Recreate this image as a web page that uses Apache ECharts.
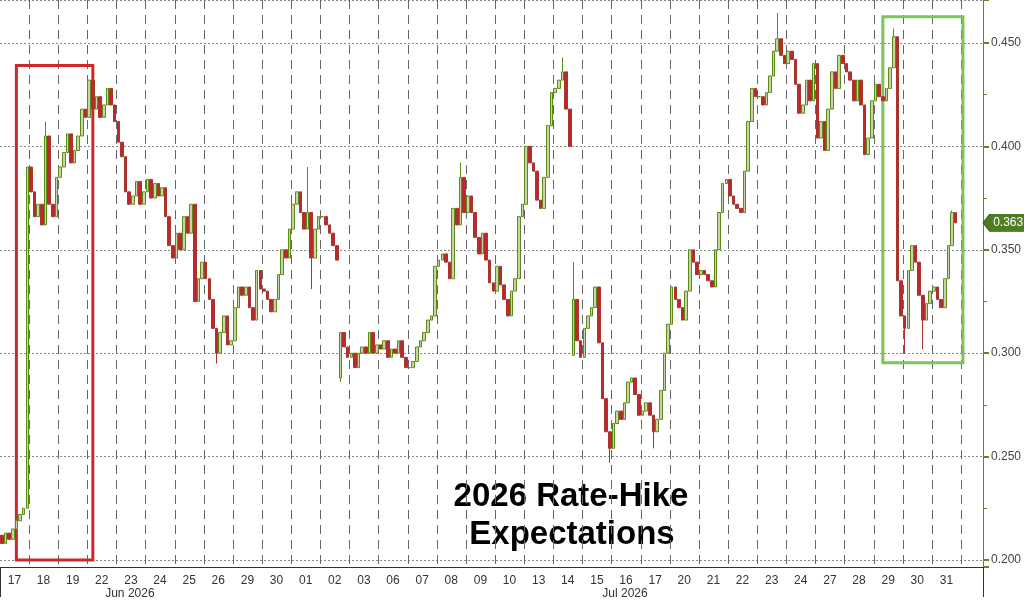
<!DOCTYPE html>
<html>
<head>
<meta charset="utf-8">
<title>2026 Rate-Hike Expectations</title>
<script src="https://cdn.jsdelivr.net/npm/echarts@6/dist/echarts.min.js"></script>
<style>
  html, body { margin: 0; padding: 0; background: #fff; }
  #chart { width: 1024px; height: 600px; }
</style>
</head>
<body>
<div id="chart"></div>
<script>
// trading days shown on the x axis
var dayLabels = ['17', '18', '19', '22', '23', '24', '25', '26', '29', '30',
  '01', '02', '03', '06', '07', '08', '09', '10', '13', '14', '15', '16', '17',
  '20', '21', '22', '23', '24', '27', '28', '29', '30', '31'];
var monthLabels = { 4: 'Jun 2026', 21: 'Jul 2026' };
var slotsPerDay = 8;
var totalSlots = 270;

// intraday closes, 8 bars per day
var firstOpen = 0.212;
var closes = [
  [0.208, 0.213, 0.210, 0.215, 0.219, 0.222, 0.225, 0.390], // Jun 17
  [0.378, 0.366, 0.372, 0.362, 0.405, 0.372, 0.366, 0.385],
  [0.390, 0.397, 0.406, 0.392, 0.398, 0.405, 0.418, 0.414],
  [0.432, 0.418, 0.424, 0.414, 0.420, 0.428, 0.420, 0.412],
  [0.402, 0.395, 0.378, 0.372, 0.376, 0.383, 0.372, 0.378],
  [0.384, 0.375, 0.382, 0.376, 0.380, 0.366, 0.352, 0.346],
  [0.358, 0.350, 0.366, 0.358, 0.372, 0.325, 0.336, 0.344],
  [0.336, 0.326, 0.312, 0.300, 0.310, 0.318, 0.304, 0.306],
  [0.322, 0.332, 0.328, 0.332, 0.322, 0.316, 0.340, 0.331],
  [0.330, 0.326, 0.320, 0.326, 0.338, 0.350, 0.346, 0.360], // Jun 30
  [0.372, 0.378, 0.368, 0.360, 0.368, 0.346, 0.360, 0.366], // Jul 01
  [0.366, 0.362, 0.358, 0.352, 0.345, 0.310, 0.303, 0.298],
  [0.300, 0.293, 0.300, 0.303, 0.300, 0.310, 0.300, 0.304],
  [0.302, 0.306, 0.298, 0.302, 0.300, 0.306, 0.298, 0.293],
  [0.293, 0.296, 0.303, 0.306, 0.310, 0.316, 0.318, 0.342],
  [0.345, 0.348, 0.344, 0.336, 0.370, 0.362, 0.385, 0.368],
  [0.376, 0.368, 0.356, 0.348, 0.358, 0.345, 0.334, 0.330],
  [0.342, 0.333, 0.326, 0.318, 0.330, 0.336, 0.366, 0.372],
  [0.400, 0.392, 0.388, 0.374, 0.370, 0.385, 0.410, 0.426],
  [0.428, 0.432, 0.436, 0.418, 0.400, 0.326, 0.306, 0.298],
  [0.312, 0.318, 0.322, 0.332, 0.305, 0.278, 0.262, 0.254],
  [0.266, 0.272, 0.268, 0.276, 0.286, 0.288, 0.280, 0.270],
  [0.272, 0.276, 0.270, 0.262, 0.268, 0.282, 0.300, 0.314],
  [0.332, 0.326, 0.322, 0.316, 0.330, 0.350, 0.344, 0.338],
  [0.340, 0.338, 0.335, 0.332, 0.350, 0.368, 0.382, 0.384],
  [0.376, 0.372, 0.370, 0.368, 0.388, 0.412, 0.428, 0.424],
  [0.424, 0.420, 0.426, 0.434, 0.446, 0.452, 0.444, 0.440],
  [0.446, 0.442, 0.430, 0.416, 0.420, 0.432, 0.422, 0.440],
  [0.404, 0.412, 0.398, 0.418, 0.436, 0.428, 0.444, 0.440],
  [0.436, 0.432, 0.422, 0.432, 0.420, 0.396, 0.404, 0.422],
  [0.430, 0.424, 0.422, 0.428, 0.438, 0.453, 0.335, 0.318],
  [0.312, 0.340, 0.352, 0.344, 0.328, 0.316, 0.324, 0.330],
  [0.332, 0.326, 0.322, 0.336, 0.352, 0.368, 0.363]        // Jul 31
];
// bars that open after a break in the data (slot -> open)
var gapOpens = { 93: 0.288, 157: 0.299 };
// visible wick extremes (slot -> [low, high])
var wicks = {
  12: [0, 0.412], 59: [0.295, 1], 84: [0, 0.390], 85: [0.331, 1],
  93: [0.286, 1], 126: [0, 0.392], 154: [0, 0.443], 157: [0, 0.344],
  167: [0.247, 1], 179: [0.254, 1], 213: [0, 0.4645], 245: [0, 0.457],
  248: [0.300, 1], 253: [0.302, 1], 261: [0, 0.369]
};
// boxes drawn over the chart: [slotFrom, valueTop, slotTo, valueBottom]
var redBox = [4, 0.4391, 25, 0.200];
var greenBox = [242, 0.4627, 264, 0.2954];

var slots = [];
for (var s = 0; s < totalSlots; s++) slots.push('s' + s);

var candles = [];
var prev = firstOpen;
closes.forEach(function (day) {
  day.forEach(function (c) {
    var i = candles.length;
    var o = gapOpens[i] !== undefined ? gapOpens[i] : prev;
    var lo = Math.min(o, c), hi = Math.max(o, c);
    if (wicks[i]) { lo = Math.min(lo, wicks[i][0] || lo); hi = Math.max(hi, wicks[i][1] < 1 ? wicks[i][1] : hi); }
    candles.push([o, c, lo, hi]);
    prev = c;
  });
});
var lastClose = prev;
var lastSlot = totalSlots - 1;
while (candles.length < totalSlots) candles.push('-');

var chart = echarts.init(document.getElementById('chart'));
chart.setOption({
  animation: false,
  backgroundColor: '#fff',
  grid: { left: 0, right: 41, top: 0, bottom: 32 },
  xAxis: {
    type: 'category',
    data: slots,
    boundaryGap: true,
    axisLine: { show: true, lineStyle: { color: '#333', width: 1 } },
    axisTick: {
      show: true,
      interval: function (i) { return i === 80; },
      length: 30,
      lineStyle: { color: '#333', width: 1 }
    },
    splitLine: {
      show: true,
      interval: function (i) { return i > 0 && i % slotsPerDay === 0; },
      lineStyle: { color: '#666', width: 1, type: [9, 6] }
    },
    axisLabel: {
      interval: function (i) { return i % slotsPerDay === 4 && i / slotsPerDay < dayLabels.length; },
      margin: 7,
      formatter: function (v, i) {
        var d = Math.floor(i / slotsPerDay);
        var t = '{d|' + dayLabels[d] + '}';
        if (monthLabels[d]) t += '\n{m|' + monthLabels[d] + '}';
        return t;
      },
      rich: {
        d: { fontFamily: 'Liberation Sans', fontSize: 12, color: '#333', lineHeight: 13, padding: [0, 4, 0, 0] },
        m: { fontFamily: 'Liberation Sans', fontSize: 12, color: '#333', lineHeight: 14, padding: [0, 6, 0, 0] }
      }
    }
  },
  yAxis: {
    type: 'value',
    position: 'right',
    min: 0.19662,
    max: 0.47075,
    splitNumber: 5,
    scale: true,
    axisLine: { show: true, lineStyle: { color: '#6d7f2a', width: 1 } },
    axisTick: { show: true, length: 6, lineStyle: { color: '#6d7f2a', width: 2 } },
    minorTick: { show: true, splitNumber: 2, length: 4, lineStyle: { color: '#6d7f2a', width: 1 } },
    splitLine: { show: true, lineStyle: { color: '#888', width: 1, type: [2, 2] } },
    axisLabel: {
      showMinLabel: false,
      showMaxLabel: false,
      margin: 8,
      color: '#444',
      fontFamily: 'Liberation Sans',
      fontSize: 12,
      formatter: function (v) {
        return Math.abs(v * 20 - Math.round(v * 20)) < 1e-6 ? v.toFixed(3) : '';
      }
    }
  },
  series: [{
    type: 'candlestick',
    data: candles,
    barWidth: '85%',
    itemStyle: {
      color: '#c6d5a6',
      borderColor: '#5d8c16',
      color0: '#c0262e',
      borderColor0: '#a8342c',
      borderWidth: 1
    },
    markArea: {
      silent: true,
      label: { show: false },
      data: [
        [{ coord: [redBox[0], redBox[1]], itemStyle: { color: 'rgba(0,0,0,0)', borderColor: '#cc2a2a', borderWidth: 3 } },
         { coord: [redBox[2], redBox[3]] }],
        [{ coord: [greenBox[0], greenBox[1]], itemStyle: { color: 'rgba(0,0,0,0)', borderColor: '#7cc45c', borderWidth: 3 } },
         { coord: [greenBox[2], greenBox[3]] }]
      ]
    },
    markPoint: {
      silent: true,
      data: [{
        coord: [lastSlot, lastClose],
        symbol: 'path://M0,8L7,0L46,0L46,16L7,16Z',
        symbolSize: [44, 17],
        symbolKeepAspect: false,
        symbolOffset: [24, 0],
        itemStyle: { color: '#4f7d23', borderColor: '#3f6a1a', borderWidth: 1 },
        label: {
          show: true,
          position: 'inside',
          offset: [3, 0],
          color: '#fff',
          fontFamily: 'Liberation Sans',
          fontSize: 12,
          formatter: lastClose.toFixed(3)
        }
      }]
    }
  }],
  graphic: [
    { type: 'text', x: 571, y: 497, style: { text: '2026 Rate-Hike', font: 'bold 33px "Liberation Sans"', fill: '#000', textAlign: 'center', textVerticalAlign: 'middle' } },
    { type: 'text', x: 572, y: 535, style: { text: 'Expectations', font: 'bold 33px "Liberation Sans"', fill: '#000', textAlign: 'center', textVerticalAlign: 'middle' } }
  ]
});
</script>
</body>
</html>
